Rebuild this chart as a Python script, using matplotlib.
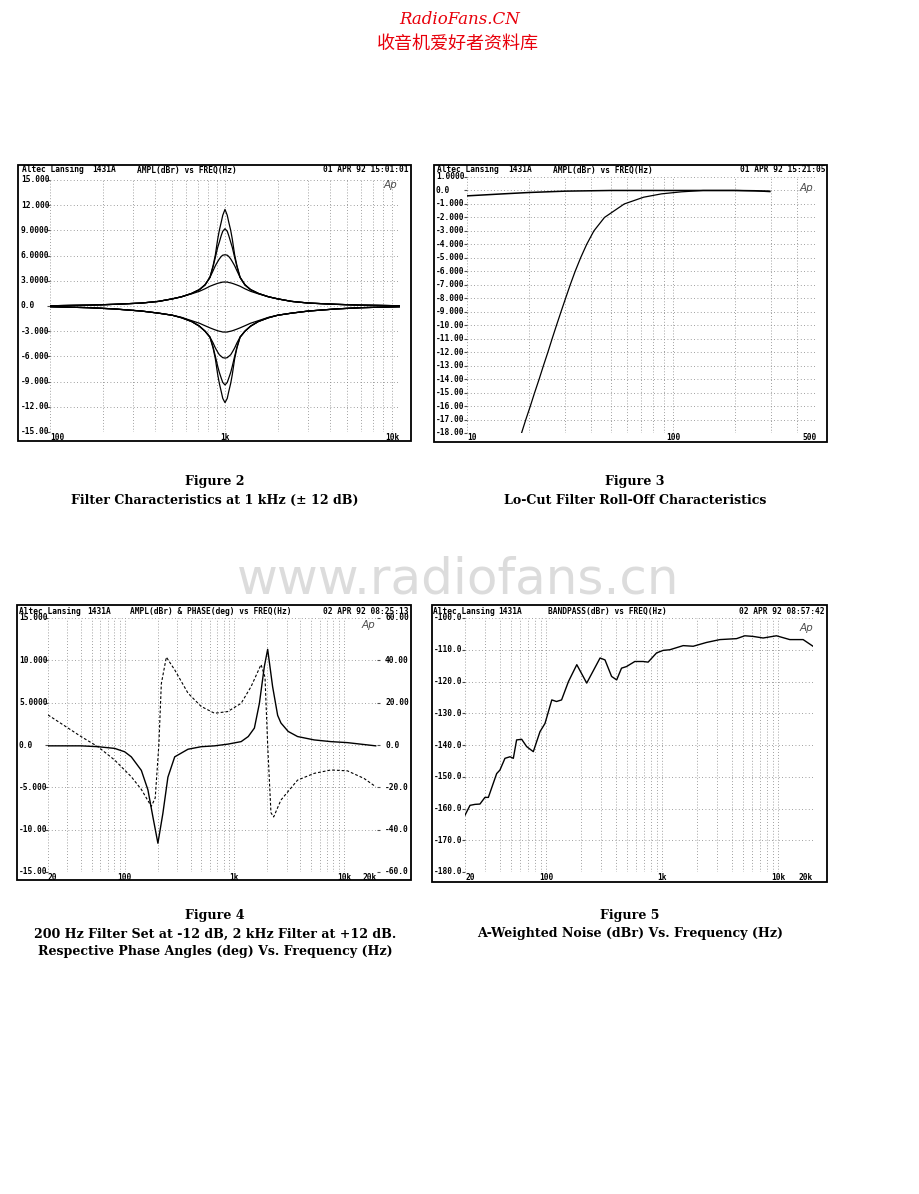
import matplotlib
matplotlib.use('Agg')
import matplotlib.pyplot as plt
from matplotlib.patches import Rectangle
from matplotlib.transforms import blended_transform_factory as btf
from matplotlib.ticker import LogLocator, NullFormatter

# ---------------- data ----------------
# Figure 2 : 1 kHz filter, +/-3, 6, 9, 12 dB settings
f2_freq = [100, 167, 233, 333, 417, 500, 565, 645, 714, 769, 820, 855, 881, 909, 928, 952, 971,
           1000, 1030, 1050, 1078, 1100, 1135, 1170, 1220, 1300, 1400, 1550, 1770, 2000, 2400,
           3000, 4300, 6000, 10000]
f2_p12 = [0.03, 0.1, 0.2, 0.35, 0.55, 0.85, 1.1, 1.5, 1.95, 2.5, 3.4, 4.8, 6.1, 8.0, 9.0, 10.0, 10.8,
          11.5, 10.8, 10.0, 9.0, 8.0, 6.1, 4.8, 3.4, 2.5, 1.95, 1.5, 1.1, 0.85, 0.55, 0.35, 0.2, 0.1, 0.03]
f2_p9 = [0.03, 0.1, 0.2, 0.35, 0.55, 0.85, 1.1, 1.5, 1.95, 2.5, 3.4, 4.7, 5.8, 7.0, 7.6, 8.4, 8.9,
         9.2, 8.9, 8.4, 7.6, 7.0, 5.8, 4.7, 3.4, 2.5, 1.95, 1.5, 1.1, 0.85, 0.55, 0.35, 0.2, 0.1, 0.03]
f2_p6 = [0.03, 0.1, 0.2, 0.35, 0.55, 0.85, 1.1, 1.5, 1.95, 2.55, 3.4, 4.2, 4.8, 5.3, 5.6, 5.9, 6.05,
         6.1, 6.05, 5.9, 5.6, 5.3, 4.8, 4.2, 3.4, 2.55, 1.95, 1.5, 1.1, 0.85, 0.55, 0.35, 0.2, 0.1, 0.03]
f2_p3 = [0.03, 0.1, 0.2, 0.35, 0.55, 0.85, 1.1, 1.45, 1.75, 2.05, 2.35, 2.5, 2.6, 2.7, 2.75, 2.8, 2.85,
         2.85, 2.85, 2.8, 2.75, 2.7, 2.6, 2.5, 2.35, 2.05, 1.75, 1.45, 1.1, 0.85, 0.55, 0.35, 0.2, 0.1, 0.03]
f2_m3 = [-0.08, -0.2, -0.35, -0.6, -0.85, -1.1, -1.35, -1.75, -2.05, -2.35, -2.6, -2.75, -2.85, -2.95, -3.0, -3.05, -3.1,
         -3.1, -3.1, -3.05, -3.0, -2.95, -2.85, -2.75, -2.6, -2.35, -2.05, -1.75, -1.35, -1.1, -0.85, -0.6, -0.35, -0.2, -0.08]
f2_m6 = [-0.08, -0.2, -0.35, -0.6, -0.85, -1.1, -1.4, -1.85, -2.4, -3.0, -3.7, -4.4, -5.0, -5.5, -5.8, -6.0, -6.15,
         -6.2, -6.15, -6.0, -5.8, -5.5, -5.0, -4.4, -3.7, -3.0, -2.4, -1.85, -1.4, -1.1, -0.85, -0.6, -0.35, -0.2, -0.08]
f2_m9 = [-0.08, -0.2, -0.35, -0.6, -0.85, -1.1, -1.4, -1.85, -2.4, -3.0, -3.7, -4.9, -6.0, -7.2, -7.9, -8.6, -9.1,
         -9.4, -9.1, -8.6, -7.9, -7.2, -6.0, -4.9, -3.7, -3.0, -2.4, -1.85, -1.4, -1.1, -0.85, -0.6, -0.35, -0.2, -0.08]
f2_m12 = [-0.08, -0.2, -0.35, -0.6, -0.85, -1.1, -1.4, -1.85, -2.4, -3.0, -3.7, -5.0, -6.3, -8.2, -9.2, -10.2, -11.0,
          -11.5, -11.0, -10.2, -9.2, -8.2, -6.3, -5.0, -3.7, -3.0, -2.4, -1.85, -1.4, -1.1, -0.85, -0.6, -0.35, -0.2, -0.08]
f2_curves = [f2_p12, f2_p9, f2_p6, f2_p3, f2_m3, f2_m6, f2_m9, f2_m12]
f2_yticks = [15, 12, 9, 6, 3, 0, -3, -6, -9, -12, -15]
f2_ylabels = ["15.000", "12.000", "9.0000", "6.0000", "3.0000", "0.0", "-3.000", "-6.000", "-9.000", "-12.00", "-15.00"]
f2_xticks = [100, 1000, 10000]
f2_xlabels = ["100", "1k", "10k"]

# Figure 3 : lo-cut roll-off
f3_flat_freq = [10, 15, 20, 30, 50, 100, 200, 250, 295]
f3_flat_db = [-0.4, -0.25, -0.15, -0.05, 0.0, 0.0, 0.0, -0.02, -0.08]
f3_cut_freq = [18.4, 19.3, 20.3, 21.3, 22.4, 23.5, 24.7, 25.9, 27.2, 28.6, 30.1, 31.7, 33.5, 35.6,
               38.1, 41.3, 46.5, 58.0, 72.0, 88.0, 110, 140, 200, 295]
f3_cut_db = [-18, -17, -16, -15, -14, -13, -12, -11, -10, -9, -8, -7, -6, -5,
             -4, -3, -2, -1, -0.5, -0.25, -0.1, 0.0, 0.0, -0.05]
f3_yticks = [1, 0, -1, -2, -3, -4, -5, -6, -7, -8, -9, -10, -11, -12, -13, -14, -15, -16, -17, -18]
f3_ylabels = ["1.0000", "0.0", "-1.000", "-2.000", "-3.000", "-4.000", "-5.000", "-6.000", "-7.000",
              "-8.000", "-9.000", "-10.00", "-11.00", "-12.00", "-13.00", "-14.00", "-15.00",
              "-16.00", "-17.00", "-18.00"]
f3_xticks = [10, 100, 500]
f3_xlabels = ["10", "100", "500"]

# Figure 4 : 200 Hz -12 dB, 2 kHz +12 dB, amplitude and phase
f4_amp_freq = [20, 40, 57, 81, 100, 115, 142, 163, 181, 201, 223, 248, 286, 378, 499, 660, 871, 1154,
               1340, 1524, 1692, 1880, 2014, 2234, 2484, 2661, 3100, 3772, 5347, 7590, 10740, 19460]
f4_amp_db = [-0.1, -0.1, -0.2, -0.4, -0.8, -1.4, -3.0, -5.3, -8.5, -11.6, -8.1, -3.8, -1.4, -0.5, -0.2,
             -0.1, 0.1, 0.4, 1.0, 2.0, 4.9, 9.3, 11.3, 6.9, 3.5, 2.6, 1.6, 1.0, 0.6, 0.4, 0.28, -0.1]
f4_ph_freq = [20, 40, 57, 81, 115, 142, 175, 190, 205, 216, 240, 286, 378, 499, 660, 871, 1154, 1422,
              1752, 1905, 2014, 2158, 2284, 2661, 3772, 5347, 7590, 10740, 15240, 19460]
f4_ph_deg = [14.2, 4.0, -0.8, -7.1, -15.0, -21.0, -29.0, -25.0, 0.0, 29.0, 41.5, 35.5, 24.5, 18.2, 15.0,
             15.8, 19.7, 27.6, 38.0, 32.0, 0.0, -32.0, -34.0, -26.0, -16.6, -13.4, -11.8, -12.2, -15.8, -19.7]
f4_yticks = [15, 10, 5, 0, -5, -10, -15]
f4_ylabels = ["15.000", "10.000", "5.0000", "0.0", "-5.000", "-10.00", "-15.00"]
f4_y2ticks = [60, 40, 20, 0, -20, -40, -60]
f4_y2labels = ["60.00", "40.00", "20.00", "0.0", "-20.0", "-40.0", "-60.0"]
f45_xticks = [20, 100, 1000, 10000, 20000]
f45_xlabels = ["20", "100", "1k", "10k", "20k"]

# Figure 5 : A-weighted noise
f5_freq = [20, 22.1, 24.4, 26.9, 29.7, 31.8, 35.1, 37.5, 40, 44.2, 48.9, 52.2, 55.7, 61.6, 68, 77.6,
           88.6, 97.9, 112, 123, 136, 156, 184, 224, 292, 322, 367, 406, 447, 493, 582, 687, 758,
           896, 1021, 1166, 1520, 1854, 2416, 3152, 4386, 5166, 6096, 7430, 9683, 12620, 16440, 20000]
f5_db = [-162.1, -159.0, -158.7, -158.6, -156.5, -156.5, -152.0, -149.0, -147.9, -144.2, -143.7,
         -144.2, -138.4, -138.2, -140.5, -142.1, -135.8, -133.2, -125.8, -126.3, -125.8, -120.0,
         -114.7, -120.5, -112.6, -113.2, -118.4, -119.5, -115.8, -115.3, -113.7, -113.7, -113.9,
         -111.0, -110.2, -110.0, -108.7, -108.9, -107.7, -106.8, -106.5, -105.6, -105.8, -106.3,
         -105.6, -106.8, -106.8, -108.9]
f5_yticks = [-100, -110, -120, -130, -140, -150, -160, -170, -180]
f5_ylabels = ["-100.0", "-110.0", "-120.0", "-130.0", "-140.0", "-150.0", "-160.0", "-170.0", "-180.0"]

# ---------------- figure ----------------
W, H = 920, 1194
fig = plt.figure(figsize=(W / 100, H / 100), dpi=100)
fig.patch.set_facecolor('white')

MONO = dict(family='DejaVu Sans Mono', weight='bold', size=5.7, color='black')
GRIDC = '0.5'


def make_axes(x0, y0, x1, y1):
    ax = fig.add_axes([x0 / W, 1 - y1 / H, (x1 - x0) / W, (y1 - y0) / H])
    for s in ax.spines.values():
        s.set_visible(False)
    ax.set_xscale('log')
    ax.patch.set_alpha(0)
    return ax


def box(x0, y0, x1, y1):
    fig.add_artist(Rectangle((x0 / W, 1 - y1 / H), (x1 - x0) / W, (y1 - y0) / H,
                             transform=fig.transFigure, fill=False, lw=1.3, ec='black'))


def style(ax, yticks):
    ax.set_yticks(yticks)
    ax.yaxis.set_major_formatter(NullFormatter())
    ax.tick_params(axis='y', length=2, width=0.8, color='0.3', pad=0)
    ax.xaxis.set_major_locator(LogLocator(base=10))
    ax.xaxis.set_minor_locator(LogLocator(base=10, subs=range(2, 10)))
    ax.xaxis.set_major_formatter(NullFormatter())
    ax.xaxis.set_minor_formatter(NullFormatter())
    ax.tick_params(axis='x', which='both', length=0)
    ax.grid(True, which='both', axis='x', ls=(0, (1, 2.5)), lw=0.6, color=GRIDC)
    ax.grid(True, which='major', axis='y', ls=(0, (1, 3)), lw=0.6, color=GRIDC)


def ylabels(ax, ticks, labels, xpix):
    tr = btf(fig.transFigure, ax.transData)
    for t, l in zip(ticks, labels):
        ax.text(xpix / W, t, l, transform=tr, ha='left', va='center', clip_on=False, **MONO)


def xlabels(ax, ticks, labels, ypix):
    tr = btf(ax.transData, fig.transFigure)
    n = len(ticks)
    for i, (t, l) in enumerate(zip(ticks, labels)):
        ha = 'left' if i == 0 else ('right' if i == n - 1 else 'center')
        ax.text(t, 1 - ypix / H, l, transform=tr, ha=ha, va='center', clip_on=False, **MONO)


def header(ypix, xs, title, xdate, date):
    fig.text(xs[0] / W, 1 - ypix / H, "Altec Lansing", ha='left', va='center', **MONO)
    fig.text(xs[1] / W, 1 - ypix / H, "1431A", ha='left', va='center', **MONO)
    fig.text(xs[2] / W, 1 - ypix / H, title, ha='left', va='center', **MONO)
    fig.text(xdate / W, 1 - ypix / H, date, ha='right', va='center', **MONO)


def logo(x, y):
    fig.text(x / W, 1 - y / H, "Ap", ha='center', va='center', style='italic',
             family='DejaVu Sans', size=7.5, color='0.3')


# --- Figure 2 ---
box(18, 165, 411, 441)
ax2 = make_axes(50, 180, 400, 432)
for c in f2_curves:
    ax2.plot(f2_freq, c, color='black', lw=0.9)
ax2.set_xlim(100, 10000)
ax2.set_ylim(-15, 15)
style(ax2, f2_yticks)
ylabels(ax2, f2_yticks, f2_ylabels, 21)
xlabels(ax2, f2_xticks, f2_xlabels, 437)
header(170, [22, 92, 137], "AMPL(dBr) vs FREQ(Hz)", 409, "01 APR 92 15:01:01")
logo(390, 185)

# --- Figure 3 ---
box(434, 165, 827, 442)
ax3 = make_axes(467, 177, 817, 433)
ax3.plot(f3_flat_freq, f3_flat_db, color='black', lw=1.1)
ax3.plot(f3_cut_freq, f3_cut_db, color='black', lw=0.9)
ax3.set_xlim(10, 500)
ax3.set_ylim(-18, 1)
style(ax3, f3_yticks)
ylabels(ax3, f3_yticks, f3_ylabels, 436)
xlabels(ax3, f3_xticks, f3_xlabels, 437)
header(170, [437, 508, 553], "AMPL(dBr) vs FREQ(Hz)", 826, "01 APR 92 15:21:05")
logo(806, 188)

# --- Figure 4 ---
box(17, 605, 411, 880)
ax4 = make_axes(48, 618, 377, 872)
ax4.plot(f4_amp_freq, f4_amp_db, color='black', lw=1.0)
ax4.set_xlim(20, 20000)
ax4.set_ylim(-15, 15)
style(ax4, f4_yticks)
ax4b = ax4.twinx()
for s in ax4b.spines.values():
    s.set_visible(False)
ax4b.plot(f4_ph_freq, f4_ph_deg, color='black', lw=0.8, ls=(0, (2.5, 1.8)))
ax4b.set_ylim(-60, 60)
ax4b.set_yticks(f4_y2ticks)
ax4b.yaxis.set_major_formatter(NullFormatter())
ax4b.tick_params(axis='y', length=2, width=0.8, color='0.3')
ax4b.set_xlim(20, 20000)
ylabels(ax4, f4_yticks, f4_ylabels, 19)
ylabels(ax4b, f4_y2ticks, f4_y2labels, 385)
xlabels(ax4, f45_xticks, f45_xlabels, 877)
header(611, [19, 87, 130], "AMPL(dBr) & PHASE(deg) vs FREQ(Hz)", 409, "02 APR 92 08:25:13")
logo(368, 625)

# --- Figure 5 ---
box(432, 605, 827, 882)
ax5 = make_axes(465, 618, 813, 872)
ax5.plot(f5_freq, f5_db, color='black', lw=1.0)
ax5.set_xlim(20, 20000)
ax5.set_ylim(-180, -100)
style(ax5, f5_yticks)
ylabels(ax5, f5_yticks, f5_ylabels, 434)
xlabels(ax5, f45_xticks, f45_xlabels, 877)
header(611, [433, 498, 548], "BANDPASS(dBr) vs FREQ(Hz)", 825, "02 APR 92 08:57:42")
logo(806, 628)

# --- captions ---
CAP = dict(family='DejaVu Serif', weight='bold', size=9.1, ha='center', va='center', color='black')
fig.text(215 / W, 1 - 482 / H, "Figure 2", **CAP)
fig.text(215 / W, 1 - 500 / H, "Filter Characteristics at 1 kHz (\u00b1 12 dB)", **CAP)
fig.text(635 / W, 1 - 482 / H, "Figure 3", **CAP)
fig.text(635 / W, 1 - 500 / H, "Lo-Cut Filter Roll-Off Characteristics", **CAP)
fig.text(215 / W, 1 - 915 / H, "Figure 4", **CAP)
fig.text(215 / W, 1 - 934 / H, "200 Hz Filter Set at -12 dB, 2 kHz Filter at +12 dB.", **CAP)
fig.text(215 / W, 1 - 952 / H, "Respective Phase Angles (deg) Vs. Frequency (Hz)", **CAP)
fig.text(630 / W, 1 - 915 / H, "Figure 5", **CAP)
fig.text(630 / W, 1 - 934 / H, "A-Weighted Noise (dBr) Vs. Frequency (Hz)", **CAP)

# --- watermark / site header ---
fig.text(458 / W, 1 - 580 / H, "www.radiofans.cn", ha='center', va='center',
         family='DejaVu Sans', size=36, color='#dcdcdc', zorder=0)
fig.text(460 / W, 1 - 20 / H, "RadioFans.CN", ha='center', va='center',
         family='DejaVu Serif', style='italic', size=12, color='#e8000b')
fig.text(458 / W, 1 - 44 / H, "收音机爱好者资料库", ha='center', va='center',
         family=['Noto Sans CJK SC', 'DejaVu Sans'], size=13, color='#e8000b')

fig.savefig('out.png', dpi=100, facecolor='white')
